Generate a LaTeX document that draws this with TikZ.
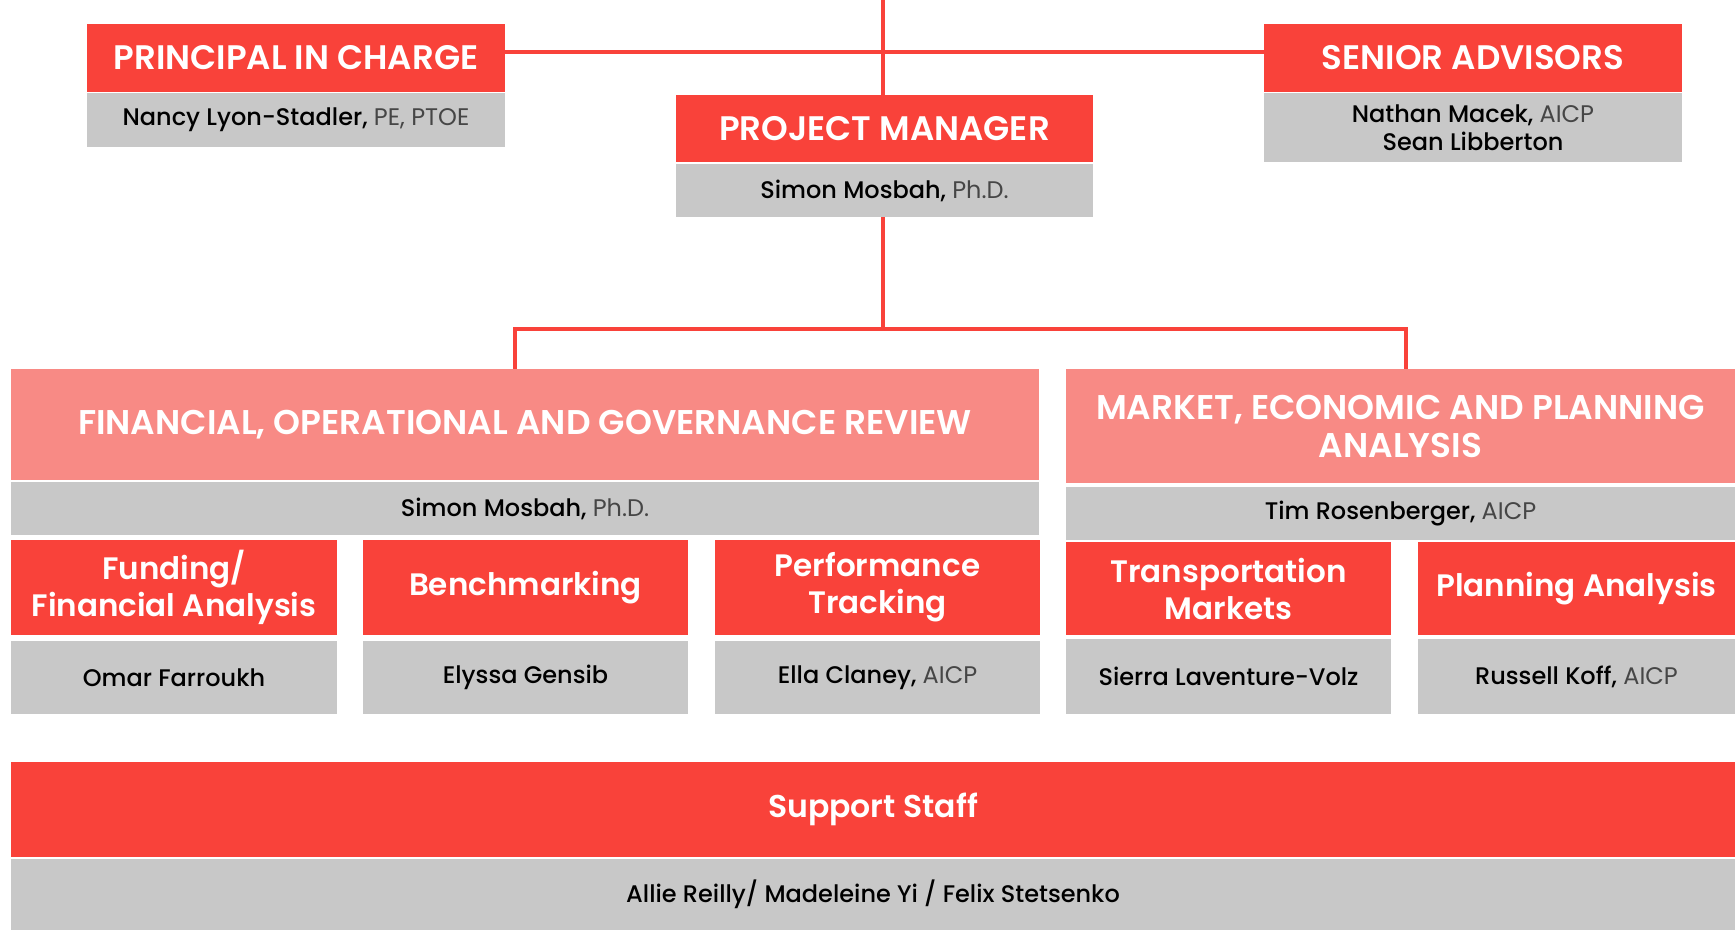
\documentclass[tikz,border=0pt]{standalone}
\usepackage{fontspec}
\setmainfont{Poppins}
\newfontfamily\titlefont{Poppins SemiBold}
\newfontfamily\namefont{Poppins Medium}
\definecolor{cred}{RGB}{249,66,58}
\definecolor{cpink}{RGB}{248,138,133}
\definecolor{cgray}{RGB}{200,200,200}
\definecolor{ctxt}{RGB}{70,70,70}
\newcommand{\credn}[1]{{\rmfamily\color{ctxt}#1}}
\tikzset{
  box/.style={inner sep=0pt, outer sep=0pt, align=center},
  capbox/.style={box, fill=cred, text=white, font=\fontsize{34}{38}\selectfont\titlefont},
  redbox/.style={box, fill=cred, text=white, font=\fontsize{31}{37}\selectfont\titlefont},
  pinkbox/.style={box, fill=cpink, text=white, font=\fontsize{34.3}{38}\selectfont\titlefont},
  graybox/.style={box, fill=cgray, text=black, font=\fontsize{24}{28}\selectfont\namefont},
  link/.style={draw=cred, line width=3.5pt}
}
\begin{document}
\begin{tikzpicture}[x=1pt,y=-1pt]
\useasboundingbox[fill=white] (0,0) rectangle (1735,930);
% top
\node[capbox, minimum width=418pt, minimum height=68pt] (pic) at (296,58) {PRINCIPAL IN CHARGE};
\node[graybox, minimum width=418pt, minimum height=54pt] (picg) at (296,120) {Nancy Lyon-Stadler, \credn{PE, PTOE}};
\node[capbox, minimum width=417pt, minimum height=67pt] (pm) at (884.5,128.5) {PROJECT MANAGER};
\node[graybox, minimum width=417pt, minimum height=53pt] (pmg) at (884.5,190.5) {Simon Mosbah, \credn{Ph.D.}};
\node[capbox, minimum width=418pt, minimum height=68pt] (sa) at (1473,58) {SENIOR ADVISORS};
\node[graybox, minimum width=418pt, minimum height=69pt] (sag) at (1473,127.5) {Nathan Macek, \credn{AICP}\\Sean Libberton};
% groups
\node[pinkbox, minimum width=1028pt, minimum height=111pt] (fin) at (525,424.5) {FINANCIAL, OPERATIONAL AND GOVERNANCE REVIEW};
\node[graybox, minimum width=1028pt, minimum height=53pt] (fing) at (525,508.5) {Simon Mosbah, \credn{Ph.D.}};
\node[pinkbox, minimum width=669pt, minimum height=114pt] (mkt) at (1400.5,426) {MARKET, ECONOMIC AND PLANNING\\ANALYSIS};
\node[graybox, minimum width=669pt, minimum height=53pt] (mktg) at (1400.5,513.5) {Tim Rosenberger, \credn{AICP}};
% sub boxes
\node[redbox, minimum width=326pt, minimum height=95pt] (fund) at (174,587.5) {Funding/\\Financial Analysis};
\node[graybox, minimum width=326pt, minimum height=73pt] (fundg) at (174,677.5) {Omar Farroukh};
\node[redbox, minimum width=325pt, minimum height=95pt] (bench) at (525.5,587.5) {Benchmarking};
\node[graybox, minimum width=325pt, minimum height=73pt] (benchg) at (525.5,677.5) {Elyssa Gensib};
\node[redbox, minimum width=325pt, minimum height=95pt] (perf) at (877.5,587.5) {Performance\\Tracking};
\node[graybox, minimum width=325pt, minimum height=73pt] (perfg) at (877.5,677.5) {Ella Claney, \credn{AICP}};
\node[redbox, minimum width=325pt, minimum height=93pt] (trans) at (1228.5,588.5) {Transportation\\Markets};
\node[graybox, minimum width=325pt, minimum height=75pt] (transg) at (1228.5,676.5) {Sierra Laventure-Volz};
\node[redbox, minimum width=317pt, minimum height=93pt] (plan) at (1576.5,588.5) {Planning Analysis};
\node[graybox, minimum width=317pt, minimum height=75pt] (plang) at (1576.5,676.5) {Russell Koff, \credn{AICP}};
% support
\node[redbox, minimum width=1724pt, minimum height=95pt, font=\fontsize{31.5}{37}\selectfont\titlefont] (sup) at (873,809.5) {Support Staff};
\node[graybox, minimum width=1724pt, minimum height=71pt] (supg) at (873,894.5) {Allie Reilly/ Madeleine Yi / Felix Stetsenko};
% connectors
\coordinate (topc) at (883,0);
\coordinate (hub) at (883,329);
\draw[link] (topc) -- (topc |- pm.north);
\draw[link] ([yshift=6pt]pic.east) -- ([yshift=6pt]sa.west);
\draw[link] (hub |- pmg.south) -- (hub);
\draw[link] (hub) -| ([xshift=-10pt]fin.north);
\draw[link] (hub) -| ([xshift=5.5pt]mkt.north);
\end{tikzpicture}
\end{document}
